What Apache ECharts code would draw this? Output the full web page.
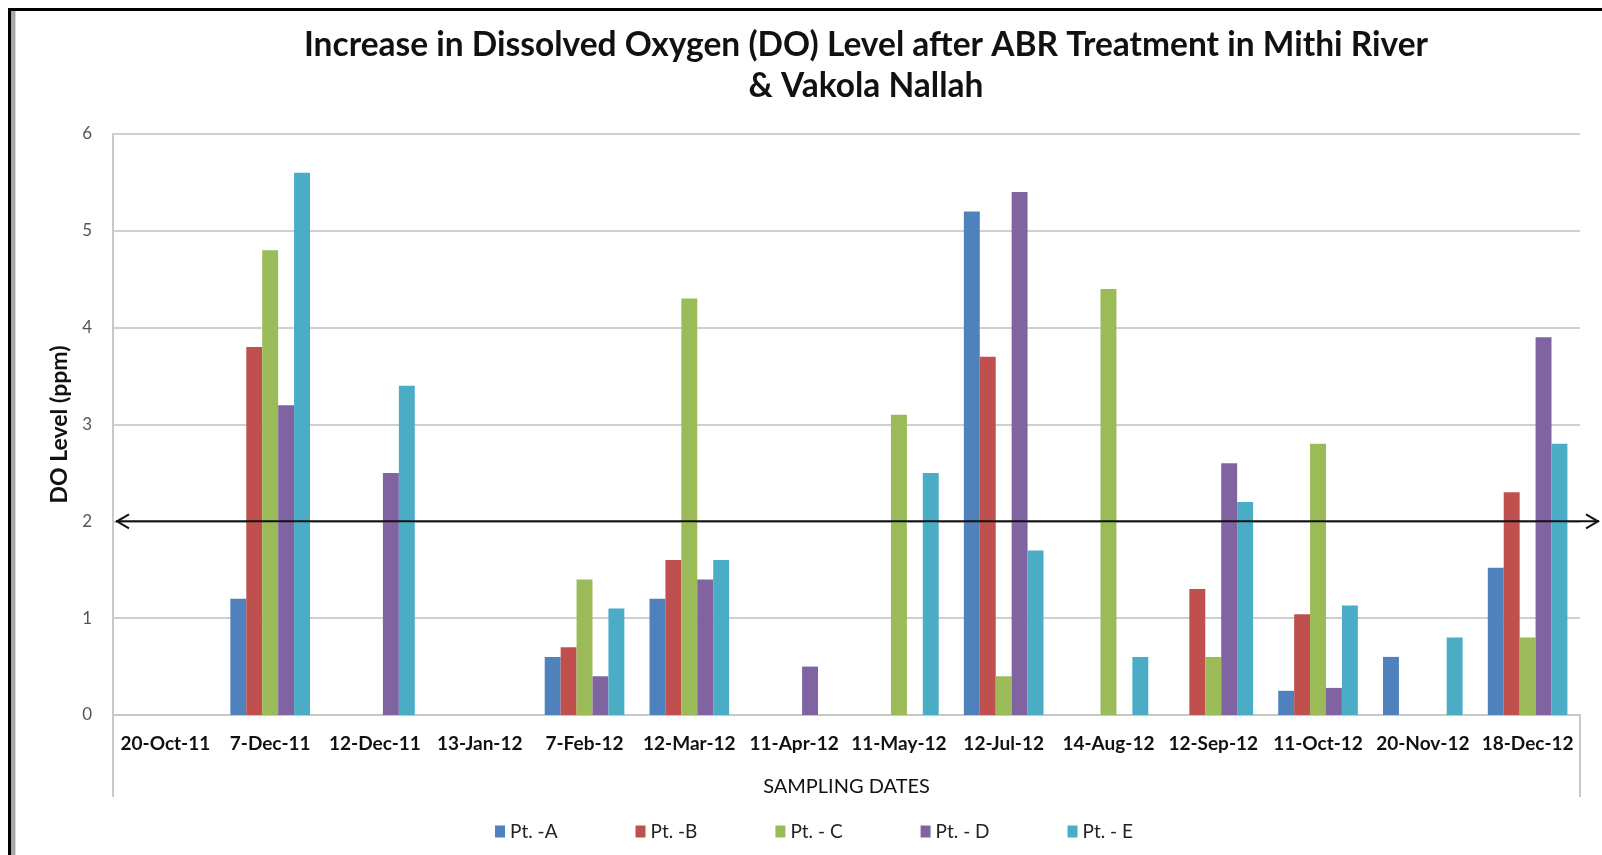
<!DOCTYPE html>
<html>
<head>
<meta charset="utf-8">
<script src="https://cdn.jsdelivr.net/npm/echarts@6/dist/echarts.min.js"></script>
<style>
html,body{margin:0;padding:0;background:#fff;}
#chart{width:1602px;height:855px;}
</style>
</head>
<body>
<div id="chart"></div>
<script>
var categories = ['20-Oct-11','7-Dec-11','12-Dec-11','13-Jan-12','7-Feb-12','12-Mar-12','11-Apr-12','11-May-12','12-Jul-12','14-Aug-12','12-Sep-12','11-Oct-12','20-Nov-12','18-Dec-12'];
var seriesNames = ['Pt. -A','Pt. -B','Pt. - C','Pt. - D','Pt. - E'];
var ptA = ['-', 1.2, '-', '-', 0.6, 1.2, '-', '-', 5.2, '-', '-', 0.25, 0.6, 1.52];
var ptB = ['-', 3.8, '-', '-', 0.7, 1.6, '-', '-', 3.7, '-', 1.3, 1.04, '-', 2.3];
var ptC = ['-', 4.8, '-', '-', 1.4, 4.3, '-', 3.1, 0.4, 4.4, 0.6, 2.8, '-', 0.8];
var ptD = ['-', 3.2, 2.5, '-', 0.4, 1.4, 0.5, '-', 5.4, '-', 2.6, 0.28, '-', 3.9];
var ptE = ['-', 5.6, 3.4, '-', 1.1, 1.6, '-', 2.5, 1.7, 0.6, 2.2, 1.13, 0.8, 2.8];
var yTicks = [0, 1, 2, 3, 4, 5, 6];
var refLevel = 2;
var colors = ['#4F81BD','#C0504D','#9BBB59','#8064A2','#4BACC6'];
var allData = [ptA, ptB, ptC, ptD, ptE];

var chart = echarts.init(document.getElementById('chart'), null, {renderer:'canvas'});
var series = allData.map(function(d, i){
  return {
    name: seriesNames[i], type:'bar', data:d,
    barGap:'0%', barCategoryGap:'24%',
    itemStyle:{color:colors[i]}
  };
});
var option = {
  animation:false,
  backgroundColor:'#fff',
  color:colors,
  title:{
    text:'Increase in Dissolved Oxygen (DO) Level after ABR Treatment in Mithi River\n& Vakola Nallah',
    left:861, textAlign:'center', top:20,
    textStyle:{fontFamily:'Lato', fontWeight:'bold', fontSize:33.5, lineHeight:41, color:'#111'}
  },
  legend:{
    data:seriesNames, left:490, top:817, itemWidth:10, itemHeight:12, itemGap:78,
    icon:'rect',
    textStyle:{fontFamily:'Lato', fontSize:19, color:'#222'}
  },
  grid:{left:113, right:22, top:134, bottom:140, containLabel:false},
  xAxis:{
    type:'category', data:categories,
    name:'SAMPLING DATES', nameLocation:'middle', nameGap:62,
    nameTextStyle:{fontFamily:'Lato', fontSize:20, color:'#111'},
    axisLine:{lineStyle:{color:'#c8c8c8', width:2}},
    axisTick:{show:false},
    axisLabel:{fontFamily:'Lato', fontWeight:'bold', fontSize:19, color:'#111', margin:19, interval:0}
  },
  yAxis:{
    type:'value', min:0, max:6, interval:1,
    name:'DO Level (ppm)', nameLocation:'middle', nameGap:41,
    nameTextStyle:{fontFamily:'Lato', fontWeight:'bold', fontSize:23, color:'#111'},
    axisLine:{show:true, lineStyle:{color:'#c8c8c8', width:2}},
    axisTick:{show:false},
    splitLine:{lineStyle:{color:'#cfcfcf', width:2}},
    axisLabel:{fontFamily:'Lato', fontSize:17, color:'#555', margin:21,
      formatter:function(v){ return yTicks.indexOf(v) >= 0 ? String(v) : ''; }}
  },
  series:series
};
chart.setOption(option);

var yRef = chart.convertToPixel({yAxisIndex:0}, refLevel);
var y0 = chart.convertToPixel({yAxisIndex:0}, 0);
var xL = 113, xR = 1580;
chart.setOption({
  graphic:[
    {type:'rect', shape:{x:8, y:8, width:1594, height:3}, style:{fill:'#000'}},
    {type:'rect', shape:{x:8, y:8, width:3, height:847}, style:{fill:'#000'}},
    {type:'rect', shape:{x:11, y:11, width:4, height:844}, style:{fill:'#a6a6a6'}},
    {type:'rect', shape:{x:15, y:11, width:1, height:844}, style:{fill:'#d8d8d8'}},
    {type:'line', shape:{x1:xL, y1:y0, x2:xL, y2:797}, style:{stroke:'#c8c8c8', lineWidth:2}},
    {type:'line', shape:{x1:xR, y1:y0, x2:xR, y2:797}, style:{stroke:'#c8c8c8', lineWidth:2}},
    {type:'line', shape:{x1:116, y1:yRef, x2:1599, y2:yRef}, style:{stroke:'#111', lineWidth:2}, z:100},
    {type:'polyline', shape:{points:[[129,yRef-7],[117,yRef],[129,yRef+7]]}, style:{stroke:'#111', lineWidth:2, fill:null}, z:100},
    {type:'polyline', shape:{points:[[1586,yRef-7],[1598,yRef],[1586,yRef+7]]}, style:{stroke:'#111', lineWidth:2, fill:null}, z:100}
  ]
});
</script>
</body>
</html>
